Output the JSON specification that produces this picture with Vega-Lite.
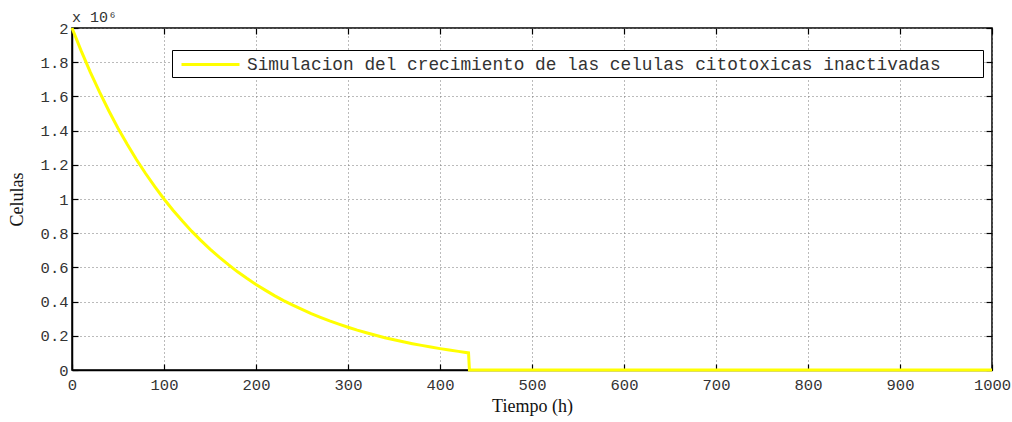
{
  "$schema": "https://vega.github.io/schema/vega-lite/v6.json",
  "autosize": "none",
  "width": 920,
  "height": 342,
  "padding": {"left": 72, "top": 28, "right": 20, "bottom": 52},
  "background": "white",
  "title": {"text": "x 10⁶", "anchor": "start", "frame": "group", "font": "Liberation Mono", "fontSize": 15, "fontWeight": "normal", "color": "#333", "offset": -4},
  "config": {
    "view": {"stroke": "black", "strokeWidth": 1.5},
    "axis": {
      "labelFont": "Liberation Mono", "labelFontSize": 15.5, "labelColor": "#333",
      "titleFont": "Liberation Serif", "titleFontSize": 18, "titleFontWeight": "normal", "titleColor": "#111",
      "domainColor": "black", "domainWidth": 1.5, "tickColor": "black", "tickWidth": 1.2,
      "gridColor": "#777", "gridDash": [1, 3], "gridOpacity": 1, "gridWidth": 1
    }
  },
  "data": {"values": [
    {"t": 0, "c": 2000000, "serie": "Simulacion del crecimiento de las celulas citotoxicas inactivadas"},
    {"t": 10, "c": 1866000, "serie": "Simulacion del crecimiento de las celulas citotoxicas inactivadas"},
    {"t": 20, "c": 1741000, "serie": "Simulacion del crecimiento de las celulas citotoxicas inactivadas"},
    {"t": 30, "c": 1625000, "serie": "Simulacion del crecimiento de las celulas citotoxicas inactivadas"},
    {"t": 40, "c": 1516000, "serie": "Simulacion del crecimiento de las celulas citotoxicas inactivadas"},
    {"t": 50, "c": 1414000, "serie": "Simulacion del crecimiento de las celulas citotoxicas inactivadas"},
    {"t": 60, "c": 1320000, "serie": "Simulacion del crecimiento de las celulas citotoxicas inactivadas"},
    {"t": 70, "c": 1231000, "serie": "Simulacion del crecimiento de las celulas citotoxicas inactivadas"},
    {"t": 80, "c": 1149000, "serie": "Simulacion del crecimiento de las celulas citotoxicas inactivadas"},
    {"t": 90, "c": 1072000, "serie": "Simulacion del crecimiento de las celulas citotoxicas inactivadas"},
    {"t": 100, "c": 1000000, "serie": "Simulacion del crecimiento de las celulas citotoxicas inactivadas"},
    {"t": 110, "c": 933000, "serie": "Simulacion del crecimiento de las celulas citotoxicas inactivadas"},
    {"t": 120, "c": 871000, "serie": "Simulacion del crecimiento de las celulas citotoxicas inactivadas"},
    {"t": 130, "c": 812000, "serie": "Simulacion del crecimiento de las celulas citotoxicas inactivadas"},
    {"t": 140, "c": 758000, "serie": "Simulacion del crecimiento de las celulas citotoxicas inactivadas"},
    {"t": 150, "c": 707000, "serie": "Simulacion del crecimiento de las celulas citotoxicas inactivadas"},
    {"t": 160, "c": 660000, "serie": "Simulacion del crecimiento de las celulas citotoxicas inactivadas"},
    {"t": 170, "c": 616000, "serie": "Simulacion del crecimiento de las celulas citotoxicas inactivadas"},
    {"t": 180, "c": 574000, "serie": "Simulacion del crecimiento de las celulas citotoxicas inactivadas"},
    {"t": 190, "c": 536000, "serie": "Simulacion del crecimiento de las celulas citotoxicas inactivadas"},
    {"t": 200, "c": 500000, "serie": "Simulacion del crecimiento de las celulas citotoxicas inactivadas"},
    {"t": 210, "c": 467000, "serie": "Simulacion del crecimiento de las celulas citotoxicas inactivadas"},
    {"t": 220, "c": 435000, "serie": "Simulacion del crecimiento de las celulas citotoxicas inactivadas"},
    {"t": 230, "c": 406000, "serie": "Simulacion del crecimiento de las celulas citotoxicas inactivadas"},
    {"t": 240, "c": 379000, "serie": "Simulacion del crecimiento de las celulas citotoxicas inactivadas"},
    {"t": 250, "c": 354000, "serie": "Simulacion del crecimiento de las celulas citotoxicas inactivadas"},
    {"t": 260, "c": 330000, "serie": "Simulacion del crecimiento de las celulas citotoxicas inactivadas"},
    {"t": 270, "c": 308000, "serie": "Simulacion del crecimiento de las celulas citotoxicas inactivadas"},
    {"t": 280, "c": 287000, "serie": "Simulacion del crecimiento de las celulas citotoxicas inactivadas"},
    {"t": 290, "c": 268000, "serie": "Simulacion del crecimiento de las celulas citotoxicas inactivadas"},
    {"t": 300, "c": 250000, "serie": "Simulacion del crecimiento de las celulas citotoxicas inactivadas"},
    {"t": 310, "c": 233000, "serie": "Simulacion del crecimiento de las celulas citotoxicas inactivadas"},
    {"t": 320, "c": 218000, "serie": "Simulacion del crecimiento de las celulas citotoxicas inactivadas"},
    {"t": 330, "c": 203000, "serie": "Simulacion del crecimiento de las celulas citotoxicas inactivadas"},
    {"t": 340, "c": 189000, "serie": "Simulacion del crecimiento de las celulas citotoxicas inactivadas"},
    {"t": 350, "c": 177000, "serie": "Simulacion del crecimiento de las celulas citotoxicas inactivadas"},
    {"t": 360, "c": 165000, "serie": "Simulacion del crecimiento de las celulas citotoxicas inactivadas"},
    {"t": 370, "c": 154000, "serie": "Simulacion del crecimiento de las celulas citotoxicas inactivadas"},
    {"t": 380, "c": 144000, "serie": "Simulacion del crecimiento de las celulas citotoxicas inactivadas"},
    {"t": 390, "c": 134000, "serie": "Simulacion del crecimiento de las celulas citotoxicas inactivadas"},
    {"t": 400, "c": 125000, "serie": "Simulacion del crecimiento de las celulas citotoxicas inactivadas"},
    {"t": 410, "c": 117000, "serie": "Simulacion del crecimiento de las celulas citotoxicas inactivadas"},
    {"t": 420, "c": 109000, "serie": "Simulacion del crecimiento de las celulas citotoxicas inactivadas"},
    {"t": 431, "c": 100000, "serie": "Simulacion del crecimiento de las celulas citotoxicas inactivadas"},
    {"t": 432, "c": 0, "serie": "Simulacion del crecimiento de las celulas citotoxicas inactivadas"},
    {"t": 500, "c": 0, "serie": "Simulacion del crecimiento de las celulas citotoxicas inactivadas"},
    {"t": 600, "c": 0, "serie": "Simulacion del crecimiento de las celulas citotoxicas inactivadas"},
    {"t": 700, "c": 0, "serie": "Simulacion del crecimiento de las celulas citotoxicas inactivadas"},
    {"t": 800, "c": 0, "serie": "Simulacion del crecimiento de las celulas citotoxicas inactivadas"},
    {"t": 900, "c": 0, "serie": "Simulacion del crecimiento de las celulas citotoxicas inactivadas"},
    {"t": 1000, "c": 0, "serie": "Simulacion del crecimiento de las celulas citotoxicas inactivadas"}
  ]},
  "resolve": {"axis": {"x": "independent", "y": "independent"}},
  "layer": [
    {
      "mark": {"type": "line", "strokeWidth": 3, "clip": false},
      "encoding": {
        "x": {
          "field": "t", "type": "quantitative",
          "scale": {"domain": [0, 1000], "nice": false},
          "axis": {"title": "Tiempo (h)", "values": [0,100,200,300,400,500,600,700,800,900,1000], "format": "d", "grid": true, "tickSize": -6, "labelPadding": 13, "labelFlush": false, "titlePadding": 5}
        },
        "y": {
          "field": "c", "type": "quantitative",
          "scale": {"domain": [0, 2000000], "nice": false},
          "axis": {"title": "Celulas", "values": [0,200000,400000,600000,800000,1000000,1200000,1400000,1600000,1800000,2000000], "labelExpr": "format(datum.value/1000000, '~g')", "grid": true, "tickSize": -6, "labelPadding": 10, "labelFlush": false, "titlePadding": 14}
        },
        "color": {
          "field": "serie", "type": "nominal",
          "scale": {"range": ["#ffff00"]},
          "legend": {
            "title": null, "orient": "none", "legendX": 100, "legendY": 22,
            "strokeColor": "black", "fillColor": "white", "padding": 3,
            "symbolType": "M-0.5,0H5.3", "symbolSize": 400, "symbolStrokeWidth": 3, "labelOffset": 49,
            "labelExpr": "datum.label + '\u2800\u2800\u2800'",
            "labelFont": "Liberation Mono", "labelFontSize": 17.8, "labelColor": "#333", "labelLimit": 1000
          }
        }
      }
    },
    {
      "mark": {"type": "line", "strokeWidth": 3, "opacity": 0},
      "encoding": {
        "x": {
          "field": "t", "type": "quantitative",
          "axis": {"orient": "top", "title": null, "labels": false, "domain": false, "grid": false, "values": [0,100,200,300,400,500,600,700,800,900,1000], "tickSize": -6}
        },
        "y": {
          "field": "c", "type": "quantitative",
          "axis": {"orient": "right", "title": null, "labels": false, "domain": false, "grid": false, "values": [0,200000,400000,600000,800000,1000000,1200000,1400000,1600000,1800000,2000000], "tickSize": -6}
        }
      }
    }
  ]
}
